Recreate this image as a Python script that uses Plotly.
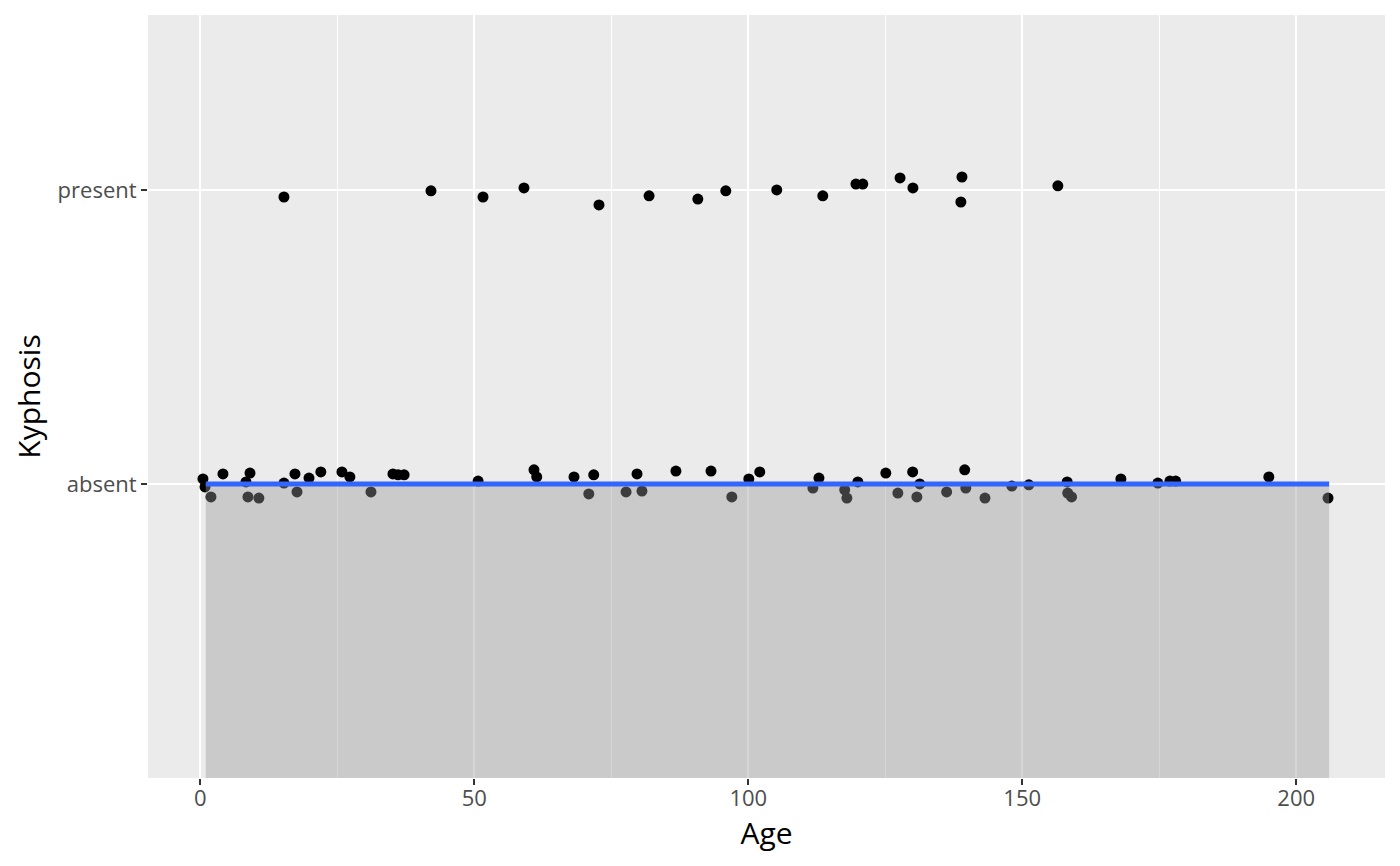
import plotly.graph_objects as go

# jittered points
absent_age = [0.49, 0.86, 1.95, 4.14, 8.34, 9.07, 8.70, 10.7, 15.27, 17.28, 17.65, 19.84, 22.0,
              25.85, 27.3, 31.15, 35.16, 36.1, 37.2, 50.7, 60.9, 61.4, 68.2, 70.9, 71.8, 77.7,
              79.7, 80.6, 86.8, 93.2, 97.0, 100.1, 102.1, 111.8, 112.9, 117.6, 118.0, 120.0,
              125.1, 127.3, 130.0, 130.77, 131.3, 136.2, 139.5, 139.7, 143.2, 148.1, 151.2,
              158.2, 158.3, 159.0, 168.0, 174.75, 176.95, 178.0, 195.0, 205.8]
absent_y = [1.017, 0.990, 0.956, 1.034, 1.007, 1.037, 0.956, 0.952, 1.003, 1.034, 0.973, 1.020,
            1.041, 1.041, 1.024, 0.973, 1.034, 1.031, 1.031, 1.010, 1.048, 1.024, 1.024, 0.966,
            1.031, 0.973, 1.034, 0.976, 1.044, 1.044, 0.956, 1.017, 1.041, 0.986, 1.020, 0.980,
            0.952, 1.007, 1.037, 0.969, 1.041, 0.956, 1.000, 0.973, 1.048, 0.986, 0.952, 0.993,
            0.997, 1.007, 0.969, 0.956, 1.017, 1.003, 1.010, 1.010, 1.024, 0.952]
present_age = [15.27, 42.1, 51.6, 59.07, 72.76, 81.9, 90.8, 95.9, 105.2, 113.6, 119.65, 120.9,
               127.7, 130.05, 139.0, 138.8, 156.5]
present_y = [1.976, 1.997, 1.976, 2.007, 1.949, 1.980, 1.969, 1.997, 2.000, 1.980, 2.020, 2.020,
             2.041, 2.007, 2.044, 1.959, 2.014]

# smooth line and its band
smooth_x = [1, 206]
smooth_y = [1, 1]
band_upper = [1, 1]
band_lower = [-1, -1]

levels = ["absent", "present"]

fig = go.Figure()
fig.add_trace(go.Scatter(x=absent_age + present_age, y=absent_y + present_y, mode="markers",
                         marker=dict(color="black", size=11), showlegend=False))
fig.add_trace(go.Scatter(x=smooth_x + smooth_x[::-1], y=band_upper + band_lower[::-1],
                         mode="lines", fill="toself", fillcolor="rgba(153,153,153,0.4)",
                         line=dict(width=0), showlegend=False))
fig.add_trace(go.Scatter(x=smooth_x, y=smooth_y, mode="lines",
                         line=dict(color="#3366FF", width=5), showlegend=False))

# page body has an 8px margin, so the figure is drawn a bit smaller
fig.update_layout(
    width=1384, height=850,
    margin=dict(l=140, r=7, t=7, b=80),
    paper_bgcolor="white", plot_bgcolor="#EBEBEB",
    font=dict(family="Open Sans", color="#4D4D4D", size=22),
)
fig.update_xaxes(
    range=[-9.54, 216.2], tickvals=[0, 50, 100, 150, 200],
    showgrid=True, gridcolor="white", gridwidth=2, zeroline=False,
    ticks="outside", ticklen=6, tickwidth=2, tickcolor="#333333", ticklabelstandoff=-5,
    minor=dict(tickvals=[25, 75, 125, 175], showgrid=True, gridcolor="white", gridwidth=1, ticks=""),
    title=dict(text="Age", font=dict(size=30, color="black"), standoff=4),
)
fig.update_yaxes(
    range=[0, 2.595], tickvals=[1, 2], ticktext=levels,
    showgrid=True, gridcolor="white", gridwidth=2, zeroline=False,
    ticks="outside", ticklen=6, tickwidth=2, tickcolor="#333333",
    title=dict(text="Kyphosis", font=dict(size=30, color="black"), standoff=8),
)

fig.write_html("out.html")
